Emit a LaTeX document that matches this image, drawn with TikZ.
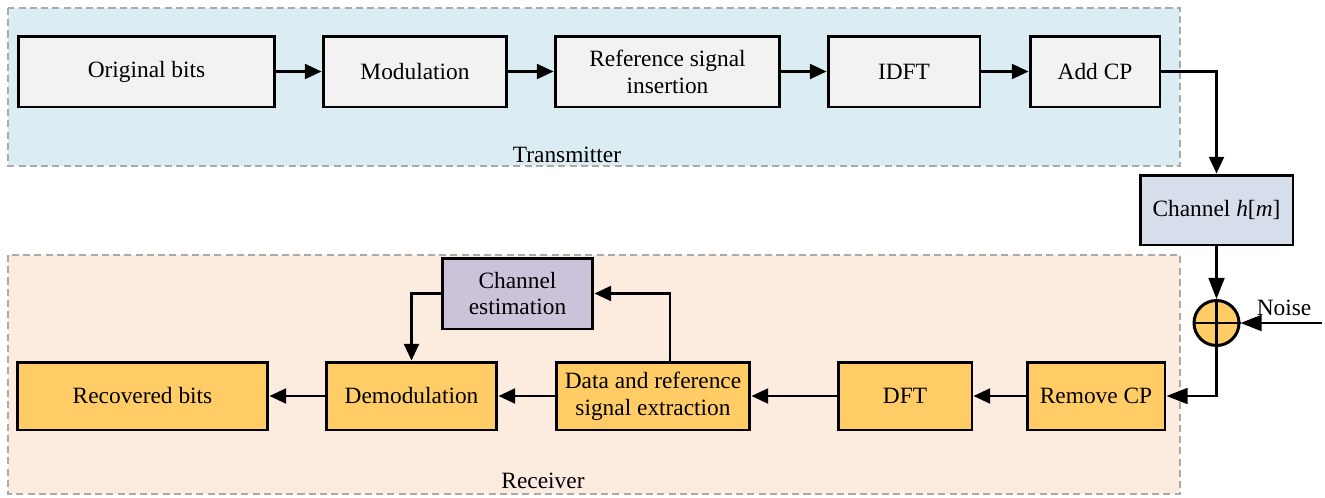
\documentclass[tikz,border=0pt]{standalone}
\usepackage{fontspec}
\setmainfont{Liberation Serif}
\usepackage{tikz}
\usetikzlibrary{arrows.meta}
\definecolor{tx-blue}{RGB}{219,237,243}
\definecolor{rx-peach}{RGB}{252,235,223}
\definecolor{box-gray}{RGB}{242,242,242}
\definecolor{box-orange}{RGB}{255,204,102}
\definecolor{box-lilac}{RGB}{204,194,218}
\definecolor{box-steel}{RGB}{214,221,235}
\definecolor{frame-gray}{RGB}{170,170,170}

\begin{document}
\begin{tikzpicture}[x=0.02cm, y=-0.02cm,
		font=\fontsize{13.3}{15.3}\selectfont,
		block/.style={draw, line width=1.7pt, align=center, inner sep=2pt, minimum height=1.42cm},
		txblock/.style={block, fill=box-gray},
		rxblock/.style={block, fill=box-orange, minimum height=1.36cm},
		container/.style={draw=frame-gray, line width=1.3pt, dash pattern=on 4pt off 2.4pt},
		arr/.style={line width=1.4pt, -{Triangle[length=9.5pt, width=8.5pt]}},
		bigarr/.style={line width=1.4pt, -{Triangle[length=12pt, width=9pt]}}]
		
		\useasboundingbox (0,0) rectangle (1325,497);
		
		% Draw the transmitter and receiver areas
		\draw[container, fill=tx-blue] (8,8) rectangle (1180,166);
		\draw[container, fill=rx-peach] (8,255) rectangle (1180,494);
		\node (txlabel) at (567,155) {Transmitter};
		\node (rxlabel) at (543,481) {Receiver};
		
		% Draw the transmitter chain
		\node (origbits) [txblock, minimum width=5.14cm] at (146.5,71.5) {Original bits};
		\node (modulation) [txblock, minimum width=3.68cm] at (415,71.5) {Modulation};
		\node (refinsert) [txblock, minimum width=4.5cm] at (667.5,71.5) {Reference signal\\insertion};
		\node (idft) [txblock, minimum width=3.04cm] at (904,71.5) {IDFT};
		\node (addcp) [txblock, minimum width=2.6cm] at (1095,71.5) {Add CP};
		
		% Draw the channel and the noise adder
		\node (channel) [block, fill=box-steel, minimum width=3.06cm, minimum height=1.4cm] at (1216.5,210) {Channel \textit{h}[\textit{m}]};
		\node (adder) [draw, circle, line width=1.7pt, fill=box-orange, minimum size=0.9cm, inner sep=0pt] at (1216.5,323) {};
		\draw[line width=1.4pt] (adder.north) -- (adder.south) (adder.west) -- (adder.east);
		\coordinate (noise) at (1322,323);
		\node (noiselabel) at (1284,308) {Noise};
		
		% Draw the receiver chain
		\node (remcp) [rxblock, minimum width=2.76cm] at (1096,396) {Remove CP};
		\node (dft) [rxblock, minimum width=2.68cm] at (905,396) {DFT};
		\node (extract) [rxblock, minimum width=3.88cm] at (653,396) {Data and reference\\signal extraction};
		\node (demod) [rxblock, minimum width=3.42cm] at (411.5,396) {Demodulation};
		\node (recbits) [rxblock, minimum width=5.02cm] at (142.5,396) {Recovered bits};
		\node (chest) [block, fill=box-lilac, minimum width=3.02cm] at (517.5,293.5) {Channel\\estimation};
		
		% Connect the blocks with arrows
		\draw[arr] (origbits) -- (modulation);
		\draw[arr] (modulation) -- (refinsert);
		\draw[arr] (refinsert) -- (idft);
		\draw[arr] (idft) -- (addcp);
		\draw[arr] (addcp.east) -| (channel.north);
		\draw[bigarr] (channel) -- (adder);
		\draw[bigarr] (noise) -- (adder);
		\draw[bigarr] (adder.south) |- (remcp.east);
		\draw[arr] (remcp) -- (dft);
		\draw[arr] (dft) -- (extract);
		\draw[arr] (extract) -- (demod);
		\draw[arr] (demod) -- (recbits);
		
		% Add the channel estimation loop
		\draw[arr] ([xshift=0.34cm]extract.north) |- (chest.east);
		\draw[arr] (chest.west) -| (demod.north);
\end{tikzpicture}
\end{document}
